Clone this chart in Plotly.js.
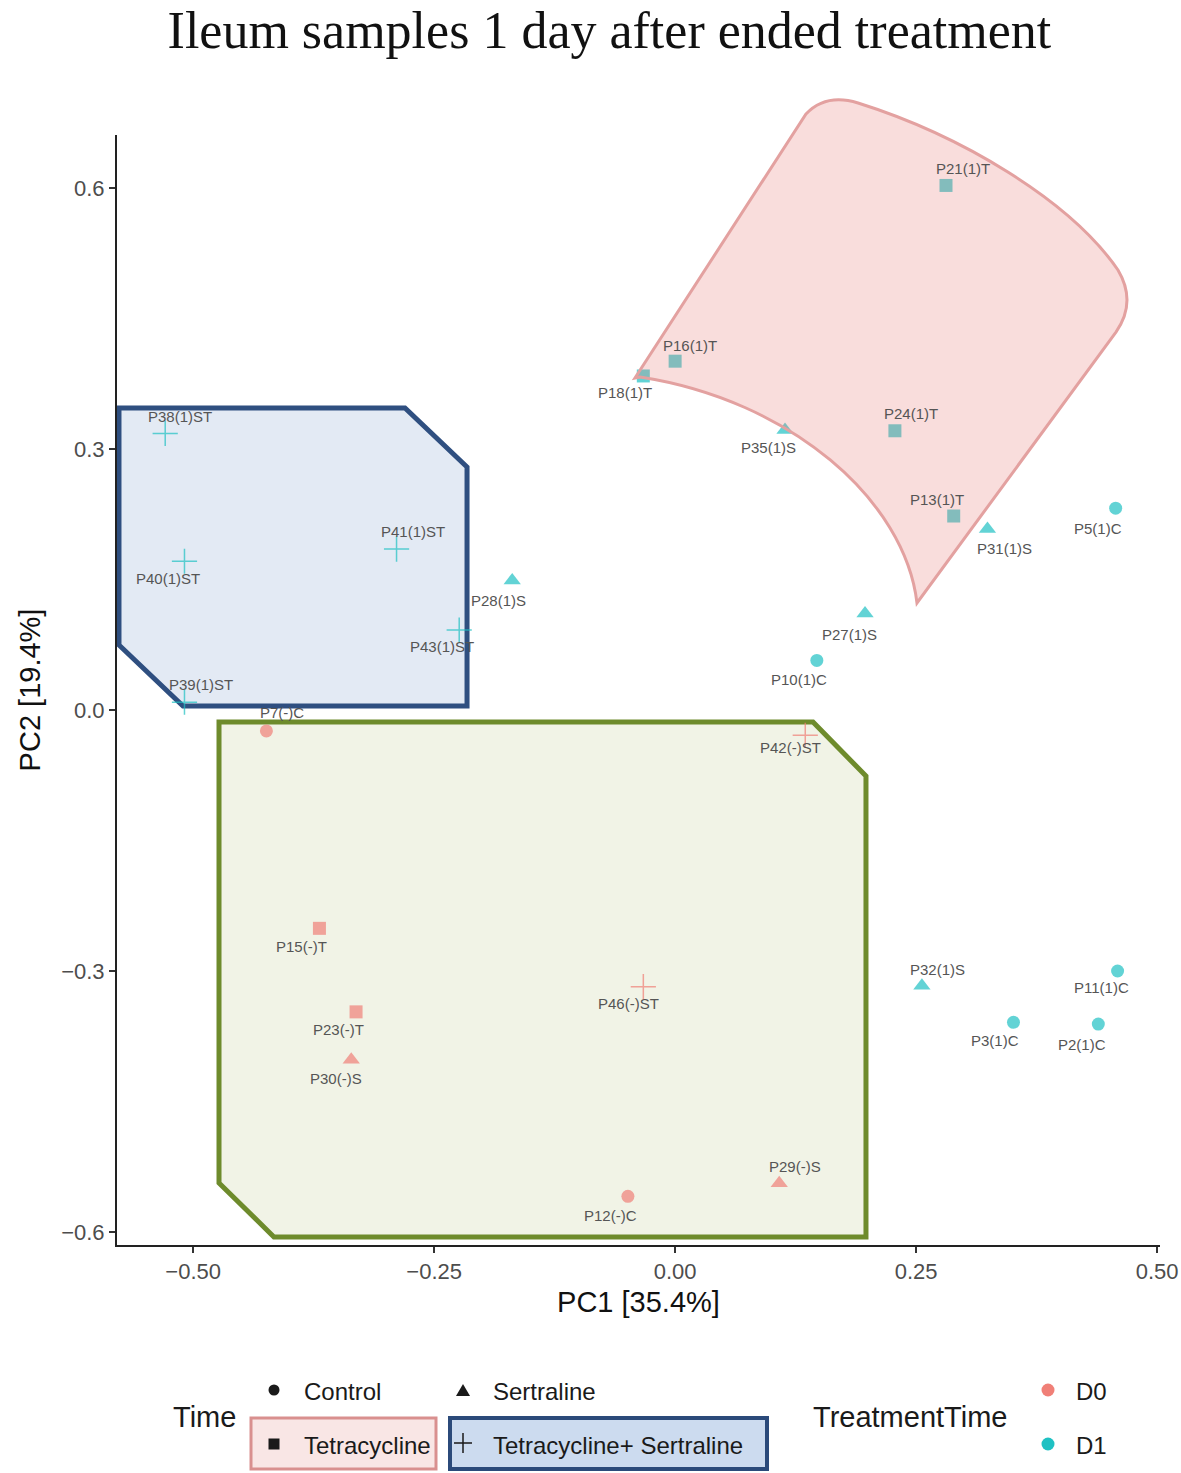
<!DOCTYPE html>
<html>
<head>
<meta charset="utf-8">
<script src="https://cdn.plot.ly/plotly-3.0.1.min.js"></script>
<style>
  html, body { margin: 0; padding: 0; background: #fff; }
  #chart { width: 1181px; height: 1473px; }
</style>
</head>
<body>
<div id="chart"></div>
<script>
// PCA scores of ileum samples
var sampleNames = ['P38(1)ST', 'P40(1)ST', 'P41(1)ST', 'P43(1)ST', 'P39(1)ST', 'P28(1)S', 'P18(1)T',
  'P16(1)T', 'P21(1)T', 'P35(1)S', 'P24(1)T', 'P13(1)T', 'P31(1)S', 'P5(1)C', 'P27(1)S', 'P10(1)C',
  'P32(1)S', 'P11(1)C', 'P3(1)C', 'P2(1)C', 'P7(-)C', 'P42(-)ST', 'P15(-)T', 'P23(-)T', 'P30(-)S',
  'P46(-)ST', 'P29(-)S', 'P12(-)C'];
var pc1 = [-0.529, -0.509, -0.289, -0.224, -0.509, -0.169, -0.033, 0.000, 0.281, 0.114, 0.228, 0.289,
  0.324, 0.457, 0.197, 0.147, 0.256, 0.459, 0.351, 0.439, -0.424, 0.135, -0.369, -0.331, -0.336,
  -0.033, 0.108, -0.049];
var pc2 = [0.318, 0.171, 0.185, 0.092, 0.009, 0.149, 0.384, 0.401, 0.603, 0.322, 0.321, 0.223,
  0.208, 0.232, 0.111, 0.057, -0.317, -0.300, -0.359, -0.361, -0.024, -0.029, -0.251, -0.347, -0.402,
  -0.318, -0.544, -0.559];
var treatment = ['TS', 'TS', 'TS', 'TS', 'TS', 'S', 'T', 'T', 'T', 'S', 'T', 'T', 'S', 'C', 'S', 'C',
  'S', 'C', 'C', 'C', 'C', 'TS', 'T', 'T', 'S', 'TS', 'S', 'C'];
var timePoint = ['D1', 'D1', 'D1', 'D1', 'D1', 'D1', 'D1', 'D1', 'D1', 'D1', 'D1', 'D1', 'D1', 'D1',
  'D1', 'D1', 'D1', 'D1', 'D1', 'D1', 'D0', 'D0', 'D0', 'D0', 'D0', 'D0', 'D0', 'D0'];

// label offsets in px (ggrepel-ish placement)
var labelDx = [15, -16, 16, -17, 17, -14, -18, 15, 17, -17, 16, -17, 17, -18, -16, -18, 16, -16, -18, -16,
  16, -15, -18, -18, -15, -15, 16, -17];
var labelDy = [17, -17, 18, -17, 18, -20, -17, 16, 17, -18, 17, 17, -19, -20, -21, -19, 16, -17, -18, -20,
  18, -12, -18, -18, -19, -17, 17, -19];

var timeColors = { D0: '#F07F77', D1: '#1FC1C3' };
var treatSymbols = { C: 'circle', S: 'triangle-up', T: 'square', TS: 'cross-thin' };

// figure px -> paper coords (plot area 117..1160 x 135..1245)
function PX(px) { return (px - 117) / 1043; }
function PY(py) { return (1245 - py) / 1110; }

var colors = timePoint.map(t => timeColors[t]);
var trace = {
  x: pc1,
  y: pc2,
  mode: 'markers',
  type: 'scatter',
  hoverinfo: 'text',
  text: sampleNames,
  marker: {
    color: colors,
    symbol: treatment.map(t => treatSymbols[t]),
    size: treatment.map(t => t === 'TS' ? 18 : (t === 'S' ? 15 : 13)),
    line: { color: colors, width: treatment.map(t => t === 'TS' ? 1.5 : 0) }
  },
  showlegend: false
};

var annotations = sampleNames.map((n, i) => ({
  x: pc1[i], y: pc2[i], xref: 'x', yref: 'y',
  text: n, showarrow: false,
  xshift: labelDx[i], yshift: labelDy[i],
  font: { family: 'Liberation Sans, Arial, sans-serif', size: 15, color: '#555' }
}));

// hand-drawn group outlines (page px)
function polyPath(pts) {
  return 'M ' + pts.map(p => PX(p[0]).toFixed(4) + ',' + PY(p[1]).toFixed(4)).join(' L ') + ' Z';
}
function P(px, py) { return PX(px).toFixed(4) + ',' + PY(py).toFixed(4); }

var blueHull = [[119, 408], [405, 408], [467, 467], [467, 706], [183, 706], [119, 645]];
var greenHull = [[219, 722], [813, 722], [866, 776], [866, 1237], [274, 1237], [219, 1183]];
var pinkPath = 'M ' + P(635, 378) + ' L ' + P(806, 114) +
  ' Q ' + P(826, 93) + ' ' + P(858, 103) +
  ' C ' + P(960, 135) + ' ' + P(1070, 200) + ' ' + P(1118, 270) +
  ' Q ' + P(1137, 302) + ' ' + P(1116, 332) +
  ' L ' + P(917, 603) +
  ' C ' + P(905, 500) + ' ' + P(790, 400) + ' ' + P(640, 377) + ' Z';

var shapes = [
  { type: 'path', xref: 'paper', yref: 'paper', path: polyPath(greenHull), layer: 'below',
    fillcolor: '#F1F3E6', line: { color: '#6E8B2C', width: 5 } },
  { type: 'path', xref: 'paper', yref: 'paper', path: polyPath(blueHull), layer: 'below',
    fillcolor: '#E3EAF4', line: { color: '#2F4F80', width: 5 } },
  { type: 'path', xref: 'paper', yref: 'paper', path: pinkPath, layer: 'above',
    fillcolor: 'rgba(231,119,115,0.25)', line: { color: '#E3A1A0', width: 3 } },
  // legend highlight boxes
  { type: 'rect', xref: 'paper', yref: 'paper', x0: PX(251), x1: PX(436), y0: PY(1469), y1: PY(1418),
    layer: 'above', fillcolor: '#F9E6E5', line: { color: '#D9908F', width: 3 } },
  { type: 'rect', xref: 'paper', yref: 'paper', x0: PX(450), x1: PX(767), y0: PY(1469), y1: PY(1418),
    layer: 'above', fillcolor: '#CCDBEF', line: { color: '#2B4A7A', width: 4 } }
];

// legend glyphs (pixel-sized, anchored in paper coords)
function glyph(cx, cy, path, col, filled) {
  return { type: 'path', xref: 'paper', yref: 'paper', xsizemode: 'pixel', ysizemode: 'pixel',
    xanchor: PX(cx), yanchor: PY(cy), path: path, layer: 'above',
    fillcolor: filled ? col : 'rgba(0,0,0,0)', line: { color: col, width: filled ? 0 : 1.5 } };
}
function dot(cx, cy, r, col) {
  return { type: 'circle', xref: 'paper', yref: 'paper', xsizemode: 'pixel', ysizemode: 'pixel',
    xanchor: PX(cx), yanchor: PY(cy), x0: -r, x1: r, y0: -r, y1: r, layer: 'above',
    fillcolor: col, line: { width: 0 } };
}
shapes.push(dot(274, 1390, 5.5, '#1a1a1a'));
shapes.push(glyph(463, 1390, 'M -7,-6 L 7,-6 L 0,6 Z', '#1a1a1a', true));
shapes.push(glyph(274, 1444, 'M -5.5,-5.5 L 5.5,-5.5 L 5.5,5.5 L -5.5,5.5 Z', '#1a1a1a', true));
shapes.push(glyph(463, 1443, 'M -9,0 L 9,0 M 0,-10 L 0,10', '#1a1a1a', false));
shapes.push(dot(1048, 1390, 6.5, timeColors.D0));
shapes.push(dot(1048, 1444, 6.5, timeColors.D1));

var legFont = { family: 'Liberation Sans, Arial, sans-serif', size: 24, color: '#1a1a1a' };
var legTitleFont = { family: 'Liberation Sans, Arial, sans-serif', size: 29, color: '#1a1a1a' };
function legText(px, py, txt, f) {
  return { xref: 'paper', yref: 'paper', x: PX(px), y: PY(py), text: txt, showarrow: false,
    xanchor: 'left', yanchor: 'middle', font: f || legFont };
}
annotations.push(legText(171, 1417, 'Time', legTitleFont));
annotations.push(legText(302, 1391, 'Control'));
annotations.push(legText(491, 1391, 'Sertraline'));
annotations.push(legText(302, 1445, 'Tetracycline'));
annotations.push(legText(491, 1445, 'Tetracycline+ Sertraline'));
annotations.push(legText(811, 1417, 'TreatmentTime', legTitleFont));
annotations.push(legText(1074, 1391, 'D0'));
annotations.push(legText(1074, 1445, 'D1'));

var axFont = { family: 'Liberation Sans, Arial, sans-serif', size: 22, color: '#4D4D4D' };
var titleFont = { family: 'Liberation Sans, Arial, sans-serif', size: 29, color: '#111' };
var layout = {
  width: 1181,
  height: 1473,
  margin: { l: 117, r: 21, t: 135, b: 228 },
  paper_bgcolor: '#fff',
  plot_bgcolor: '#fff',
  title: {
    text: 'Ileum samples 1 day after ended treatment',
    font: { family: 'Liberation Serif, Times New Roman, serif', size: 52, color: '#111' },
    xref: 'container', x: 0.516, xanchor: 'center',
    yref: 'container', y: 0.9796, yanchor: 'middle'
  },
  xaxis: {
    range: [-0.579, 0.503],
    tickvals: [-0.5, -0.25, 0, 0.25, 0.5],
    tickformat: '.2f',
    showgrid: false, zeroline: false,
    showline: true, linecolor: '#222', linewidth: 2,
    ticks: 'outside', ticklen: 6, tickwidth: 2, tickcolor: '#333',
    tickfont: axFont,
    title: { text: 'PC1 [35.4%]', font: titleFont, standoff: 8 }
  },
  yaxis: {
    range: [-0.615, 0.661],
    tickvals: [-0.6, -0.3, 0, 0.3, 0.6],
    tickformat: '.1f',
    showgrid: false, zeroline: false,
    showline: true, linecolor: '#222', linewidth: 2,
    ticks: 'outside', ticklen: 6, tickwidth: 2, tickcolor: '#333',
    tickfont: axFont,
    title: { text: 'PC2 [19.4%]', font: titleFont, standoff: 12 }
  },
  shapes: shapes,
  annotations: annotations,
  showlegend: false
};

Plotly.newPlot('chart', [trace], layout, { displayModeBar: false, staticPlot: true });
</script>
</body>
</html>
